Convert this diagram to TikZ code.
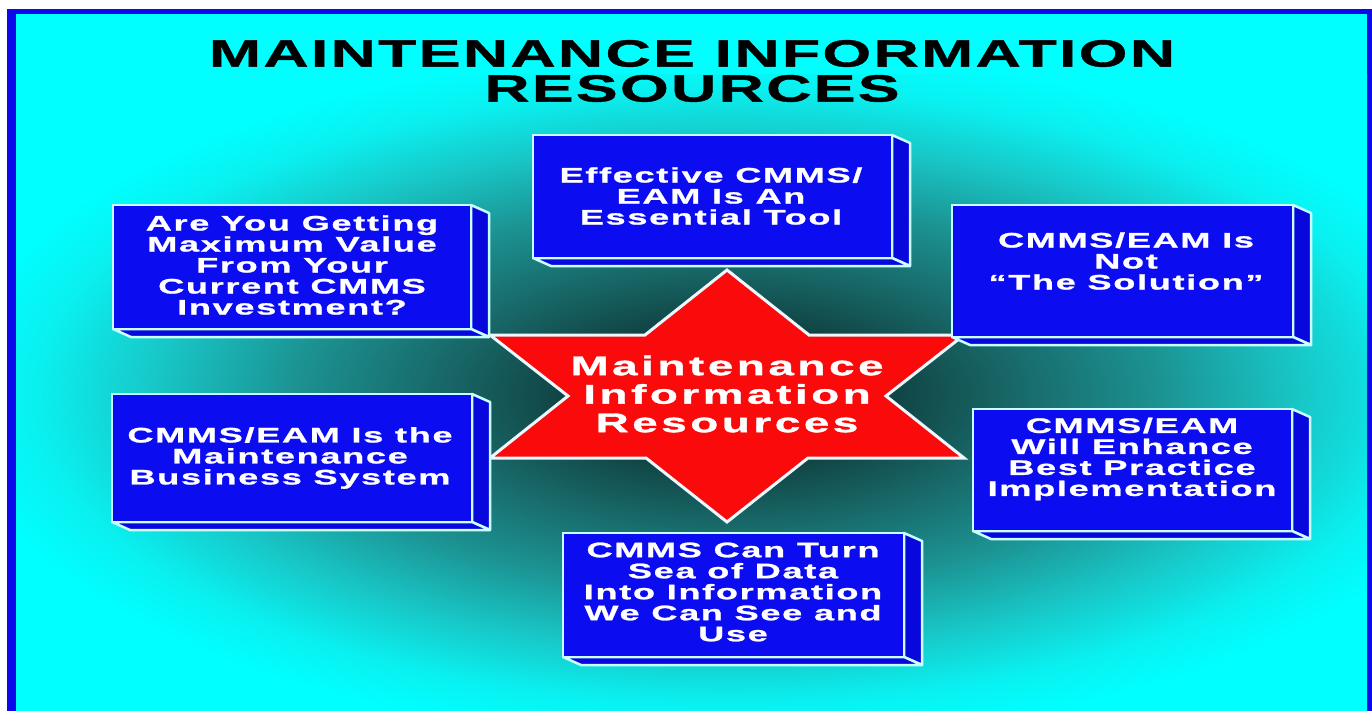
\documentclass[tikz,border=0pt]{standalone}
\usepackage{fontspec}
\setmainfont{Liberation Sans}
\newfontfamily\titlefont[FakeStretch=1.65,LetterSpace=6,FakeBold=1]{Liberation Sans}
\newfontfamily\boxfont[FakeStretch=1.72,LetterSpace=8,FakeBold=1.2]{Liberation Sans}
\newfontfamily\starfont[FakeStretch=1.7,LetterSpace=13,FakeBold=1.2]{Liberation Sans}
\definecolor{frameblue}{RGB}{10,10,235}
\definecolor{bgcyan}{RGB}{0,255,255}
\definecolor{glowa}{RGB}{10,42,42}
\definecolor{glowb}{RGB}{16,62,62}
\definecolor{glowc}{RGB}{24,104,104}
\definecolor{glowd}{RGB}{28,146,146}
\definecolor{glowe}{RGB}{24,200,200}
\definecolor{glowf}{RGB}{10,240,240}
\definecolor{boxblue}{RGB}{12,12,240}
\definecolor{sideblue}{RGB}{8,8,220}
\definecolor{boxedge}{RGB}{200,255,255}
\definecolor{starred}{RGB}{250,10,10}
\pgfdeclareradialshading{bgglow}{\pgfpoint{0bp}{0bp}}{color(0bp)=(glowa); color(5bp)=(glowb); color(10bp)=(glowc); color(15bp)=(glowd); color(20bp)=(glowe); color(24bp)=(glowf); color(27bp)=(bgcyan); color(50bp)=(bgcyan)}
\tikzset{
  face/.style={rectangle, fill=boxblue, draw=boxedge, line width=2.5pt, inner sep=0pt},
  sideface/.style={fill=sideblue, draw=boxedge, line width=2.5pt, line join=round},
  boxtext/.style={text=white, align=center, inner sep=0pt, font=\boxfont\bfseries\fontsize{21}{21}\selectfont},
  startext/.style={text=white, align=center, inner sep=0pt, font=\starfont\bfseries\fontsize{27}{28.5}\selectfont},
  titletext/.style={text=black, align=center, inner sep=0pt, font=\titlefont\bfseries\fontsize{38}{35}\selectfont},
  starshape/.style={fill=starred, draw=white!92!cyan, line width=3pt, line join=miter}
}
% #1 name, #2 x1, #3 y1, #4 x2, #5 y2
\newcommand\panelbox[5]{%
  \filldraw[sideface] (#4,#3) -- (#4+18,#3+8) -- (#4+18,#5+8) -- (#4,#5) -- cycle;
  \filldraw[sideface] (#2,#5) -- (#4,#5) -- (#4+18,#5+8) -- (#2+18,#5+8) -- cycle;
  \node[face, minimum width=#4pt-#2pt, minimum height=#5pt-#3pt] (#1) at ({(#2+#4)/2},{(#3+#5)/2}) {};
}
\begin{document}
\begin{tikzpicture}[x=1pt,y=-1pt]
\useasboundingbox (0,0) rectangle (1372,711);
\fill[white] (0,0) rectangle (1372,711);
\fill[frameblue] (7,9) rectangle (1372,711);
\fill[bgcyan] (16,14) rectangle (1367,711);
\begin{scope}
  \clip (16,14) rectangle (1367,711);
  \shade[shading=bgglow] (7,75) rectangle (1447,715);
\end{scope}

\node[titletext] (title) at (692,71) {MAINTENANCE INFORMATION\\RESOURCES};

% star
\coordinate (s1) at (490,335);
\coordinate (s2) at (645,335);
\coordinate (s3) at (727,270);
\coordinate (s4) at (809,335);
\coordinate (s5) at (964,335);
\coordinate (s6) at (886,396);
\coordinate (s7) at (964,458);
\coordinate (s8) at (808,458);
\coordinate (s9) at (727,522);
\coordinate (s10) at (646,458);
\coordinate (s11) at (490,458);
\coordinate (s12) at (568,396);
\filldraw[starshape] (s1) -- (s2) -- (s3) -- (s4) -- (s5) -- (s6) -- (s7) -- (s8) -- (s9) -- (s10) -- (s11) -- (s12) -- cycle;
\node[startext] (centre) at (727,394) {Maintenance\\Information\\Resources};

% boxes
\panelbox{b1}{533}{135}{892}{258}
\panelbox{b2}{113}{205}{471}{329}
\panelbox{b3}{952}{205}{1293}{337}
\panelbox{b4}{973}{409}{1292}{531}
\panelbox{b5}{112}{394}{472}{522}
\panelbox{b6}{563}{533}{904}{657}

\node[boxtext] (t1) at (711,196) {Effective CMMS/\\EAM Is An\\Essential Tool};
\node[boxtext] (t2) at (292,265) {Are You Getting\\Maximum Value\\From Your\\Current CMMS\\Investment?};
\node[boxtext] (t3) at (1126,261) {CMMS/EAM Is\\Not\\“The Solution”};
\node[boxtext] (t4) at (1132,459) {CMMS/EAM\\Will Enhance\\Best Practice\\Implementation};
\node[boxtext] (t5) at (290,458) {CMMS/EAM Is the\\Maintenance\\Business System};
\node[boxtext] (t6) at (733,592) {CMMS Can Turn\\Sea of Data\\Into Information\\We Can See and\\Use};
\end{tikzpicture}
\end{document}
